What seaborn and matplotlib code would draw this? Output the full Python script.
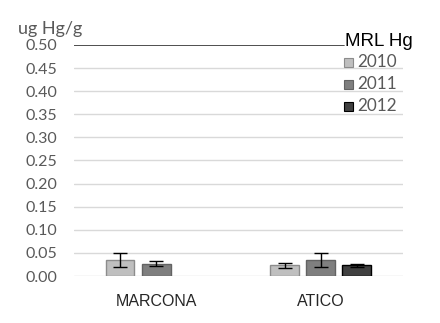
import numpy as np
import pandas as pd
import matplotlib
matplotlib.use("Agg")
import matplotlib.pyplot as plt
import seaborn as sns

# Data
sites = ["MARCONA", "ATICO"]
years = ["2010", "2011", "2012"]
hg_2010 = [0.034, 0.023]
hg_2011 = [0.027, 0.034]
hg_2012 = [np.nan, 0.023]
err_2010 = [0.015, 0.005]
err_2011 = [0.005, 0.015]
err_2012 = [np.nan, 0.003]
mrl_hg = 0.50
yticks = [0.00, 0.05, 0.10, 0.15, 0.20, 0.25, 0.30, 0.35, 0.40, 0.45, 0.50]

df = pd.DataFrame({
    "site": sites * 3,
    "year": [y for y in years for _ in sites],
    "hg": hg_2010 + hg_2011 + hg_2012,
    "err": err_2010 + err_2011 + err_2012,
})

colors = ["#bfbfbf", "#7f7f7f", "#404040"]
edges = ["#8c8c8c", "#636363", "#000000"]

sns.set_style("white")
plt.rcParams["font.family"] = ["Lato", "DejaVu Sans"]

fig = plt.figure(figsize=(4.4, 3.23), dpi=100)
ax = fig.add_axes([0.168, 0.1455, 0.748, 0.7152])

sns.barplot(data=df, x="site", y="hg", hue="year", order=sites, hue_order=years,
            palette=colors, width=0.66, gap=0.2, errorbar=None, ax=ax,
            legend=False, zorder=3)

# outline colors + error bars, matched to the drawn bars by position
for cont, ec, yr in zip(ax.containers, edges, years):
    sub = df[df["year"] == yr].set_index("site")
    for bar in cont:
        bar.set_edgecolor(ec)
        bar.set_linewidth(1.0)
        cx = bar.get_x() + bar.get_width() / 2
        row = sub.loc[sites[int(round(cx))]]
        if np.isnan(row["hg"]):
            continue
        ax.errorbar(cx, row["hg"], yerr=row["err"], color="black", lw=1,
                    capsize=5, capthick=1, zorder=4)

ax.set_ylim(0, 0.5)
ax.set_xlim(-0.5, 1.5)
ax.set_yticks(yticks)
ax.set_yticklabels([f"{t:.2f}" for t in yticks], color="#595959", fontsize=11.5)
ax.tick_params(axis="y", length=0, pad=12)
ax.tick_params(axis="x", length=0, pad=13)
for lbl in ax.get_xticklabels():
    lbl.set_fontfamily("Liberation Sans")
    lbl.set_fontsize(11.5)
    lbl.set_color("#262626")
ax.set_xlabel("")
ax.set_ylabel("")

for t in yticks[:-1]:
    ax.axhline(t, color="#d9d9d9", lw=1, zorder=1)
ax.axhline(mrl_hg, xmin=0, xmax=0.82, color="#404040", lw=1.3, zorder=2)
for s in ax.spines.values():
    s.set_visible(False)

fig.text(0.041, 0.935, "ug Hg/g", fontsize=13, color="#595959", va="top")
fig.text(0.784, 0.858, "MRL Hg", fontsize=13.5, color="black",
         fontfamily="Liberation Sans", va="baseline")

# legend
for i, (yr, c, ec) in enumerate(zip(years, colors, edges)):
    yc = 0.805 - i * 0.068
    fig.patches.append(plt.Rectangle((0.782, yc - 0.013), 0.021, 0.027,
                                     transform=fig.transFigure, facecolor=c,
                                     edgecolor=ec, lw=0.8))
    fig.text(0.811, yc + 0.002, yr, fontsize=12.3, color="#595959", va="center")

fig.savefig("out.png", dpi=100)
